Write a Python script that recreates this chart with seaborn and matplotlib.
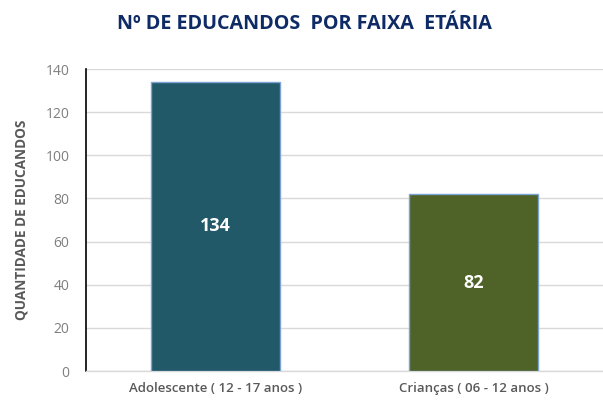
import matplotlib
matplotlib.use("Agg")
import matplotlib.pyplot as plt
import seaborn as sns
import pandas as pd

# ----- data -----
categories = ["Adolescente ( 12 - 17 anos )", "Crianças ( 06 - 12 anos )"]
counts = [134, 82]
bar_colors = ["#215968", "#4f6228"]
y_ticks = [0, 20, 40, 60, 80, 100, 120, 140]
# ----------------

sns.set_theme(style="white")
plt.rcParams['font.family'] = ['Open Sans', 'DejaVu Sans']

df = pd.DataFrame({"faixa": categories, "n": counts})

fig = plt.figure(figsize=(6.03, 4.01), dpi=100)
ax = fig.add_axes([0.1426, 0.0748, 0.857, 0.7531])

sns.barplot(data=df, x="faixa", y="n", hue="faixa", palette=bar_colors,
            saturation=1, width=0.5, edgecolor="#7ba3d6", linewidth=1.0,
            legend=False, ax=ax, zorder=3)

ax.set_ylim(0, 140)
ax.set_yticks(y_ticks)
ax.yaxis.grid(True, color="#d9d9d9", linewidth=1.0, zorder=0)
ax.set_axisbelow(True)

for s in ["top", "right"]:
    ax.spines[s].set_visible(False)
ax.spines["left"].set_color("black")
ax.spines["left"].set_linewidth(1.2)
ax.spines["bottom"].set_color("#d9d9d9")
ax.spines["bottom"].set_linewidth(1.0)

ax.tick_params(axis="y", length=0, labelsize=10, labelcolor="#7f7f7f", pad=12)
ax.tick_params(axis="x", length=0, labelsize=9.5, labelcolor="#595959", pad=8)
for lbl in ax.get_xticklabels():
    lbl.set_fontweight("semibold")

ax.set_xlabel("")
ax.set_ylabel("QUANTIDADE DE EDUCANDOS", fontsize=9.8, fontweight="bold",
              color="#595959", labelpad=12)

for i, v in enumerate(counts):
    ax.text(i, v / 2, str(v), ha="center", va="center", color="white",
            fontsize=13, fontweight="bold", zorder=4)

fig.text(0.505, 0.94, "Nº DE EDUCANDOS  POR FAIXA  ETÁRIA", ha="center", va="center",
         fontsize=14.2, fontweight="bold", color="#0f2b66")

fig.savefig("out.png", dpi=100)
